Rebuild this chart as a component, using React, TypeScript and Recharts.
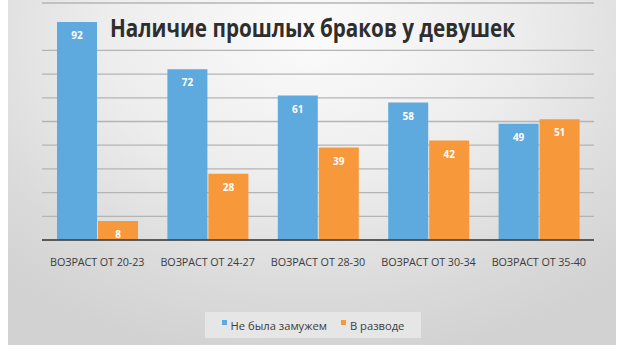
import React from "react";
import { BarChart, Bar, XAxis, YAxis, CartesianGrid, LabelList } from "recharts";

const categories = [
  "ВОЗРАСТ ОТ 20-23",
  "ВОЗРАСТ ОТ 24-27",
  "ВОЗРАСТ ОТ 28-30",
  "ВОЗРАСТ ОТ 30-34",
  "ВОЗРАСТ ОТ 35-40",
];
const neverMarried = [92, 72, 61, 58, 49];
const divorced = [8, 28, 39, 42, 51];
const yTicks = [0, 10, 20, 30, 40, 50, 60, 70, 80, 90, 100];
const seriesNames = ["Не была замужем", "В разводе"];
const title = "Наличие прошлых браков у девушек";

const BLUE = "#5ea9de";
const ORANGE = "#f7983a";

const data = categories.map((c, i) => ({
  name: c,
  a: neverMarried[i],
  b: divorced[i],
}));

const FONT = "'Open Sans', 'Noto Sans', sans-serif";

export default function App() {
  return (
    <div
      style={{
        position: "absolute",
        left: 0,
        top: 0,
        width: 620,
        height: 351,
        background: "#ffffff",
        overflow: "hidden",
        fontFamily: FONT,
      }}
    >
      <div
        style={{
          position: "absolute",
          left: 8,
          top: 0,
          width: 608,
          height: 345,
          background:
            "radial-gradient(ellipse 75% 95% at 50% 10%, #fbfbfb 0%, #ededed 45%, #dadada 80%, #d2d2d2 100%)",
        }}
      />
      <div style={{ position: "absolute", left: 0, top: 0 }}>
        <BarChart
          width={620}
          height={351}
          data={data}
          margin={{ top: 3, right: 26, bottom: 81, left: 42 }}
          barCategoryGap={15}
          barGap={1}
        >
          <CartesianGrid
            vertical={false}
            stroke="#b4b4b4"
            strokeWidth={1.3}
          />
          <YAxis hide domain={[0, 100]} ticks={yTicks} />
          <XAxis
            dataKey="name"
            height={30}
            stroke="#3a3a3a"
            strokeWidth={1.6}
            tickLine={false}
            interval={0}
            tick={{ fill: "#3c3c3c", fontSize: 10.8, fontFamily: FONT, letterSpacing: -0.1 }}
            tickMargin={12}
          />
          <Bar dataKey="a" name={seriesNames[0]} fill={BLUE} isAnimationActive={false}>
            <LabelList
              dataKey="a"
              position="insideTop"
              offset={10}
              fill="#ffffff"
              fontSize={10}
              fontWeight={700}
              fontFamily={FONT}
            />
          </Bar>
          <Bar dataKey="b" name={seriesNames[1]} fill={ORANGE} isAnimationActive={false}>
            <LabelList
              dataKey="b"
              position="insideTop"
              offset={10}
              fill="#ffffff"
              fontSize={10}
              fontWeight={700}
              fontFamily={FONT}
            />
          </Bar>
        </BarChart>
      </div>
      <svg
        width={620}
        height={60}
        style={{ position: "absolute", left: 0, top: 0, pointerEvents: "none" }}
      >
        <text
          x={110}
          y={37}
          textLength={405}
          lengthAdjust="spacingAndGlyphs"
          fontFamily={FONT}
          fontWeight={700}
          fontSize={25}
          fill="#2e2e2e"
        >
          {title}
        </text>
      </svg>
      <div
        style={{
          position: "absolute",
          left: 205,
          top: 312,
          width: 216,
          height: 26,
          background: "#e6e6e6",
          display: "flex",
          alignItems: "center",
          justifyContent: "center",
          gap: 14,
          fontSize: 11.2,
          color: "#3c3c3c",
        }}
      >
        {seriesNames.map((n, i) => (
          <div key={n} style={{ display: "flex", alignItems: "center" }}>
            <span
              style={{
                display: "inline-block",
                width: 5,
                height: 5,
                background: i === 0 ? BLUE : ORANGE,
                marginRight: 4,
                marginTop: -5,
              }}
            />
            <span>{n}</span>
          </div>
        ))}
      </div>
    </div>
  );
}
